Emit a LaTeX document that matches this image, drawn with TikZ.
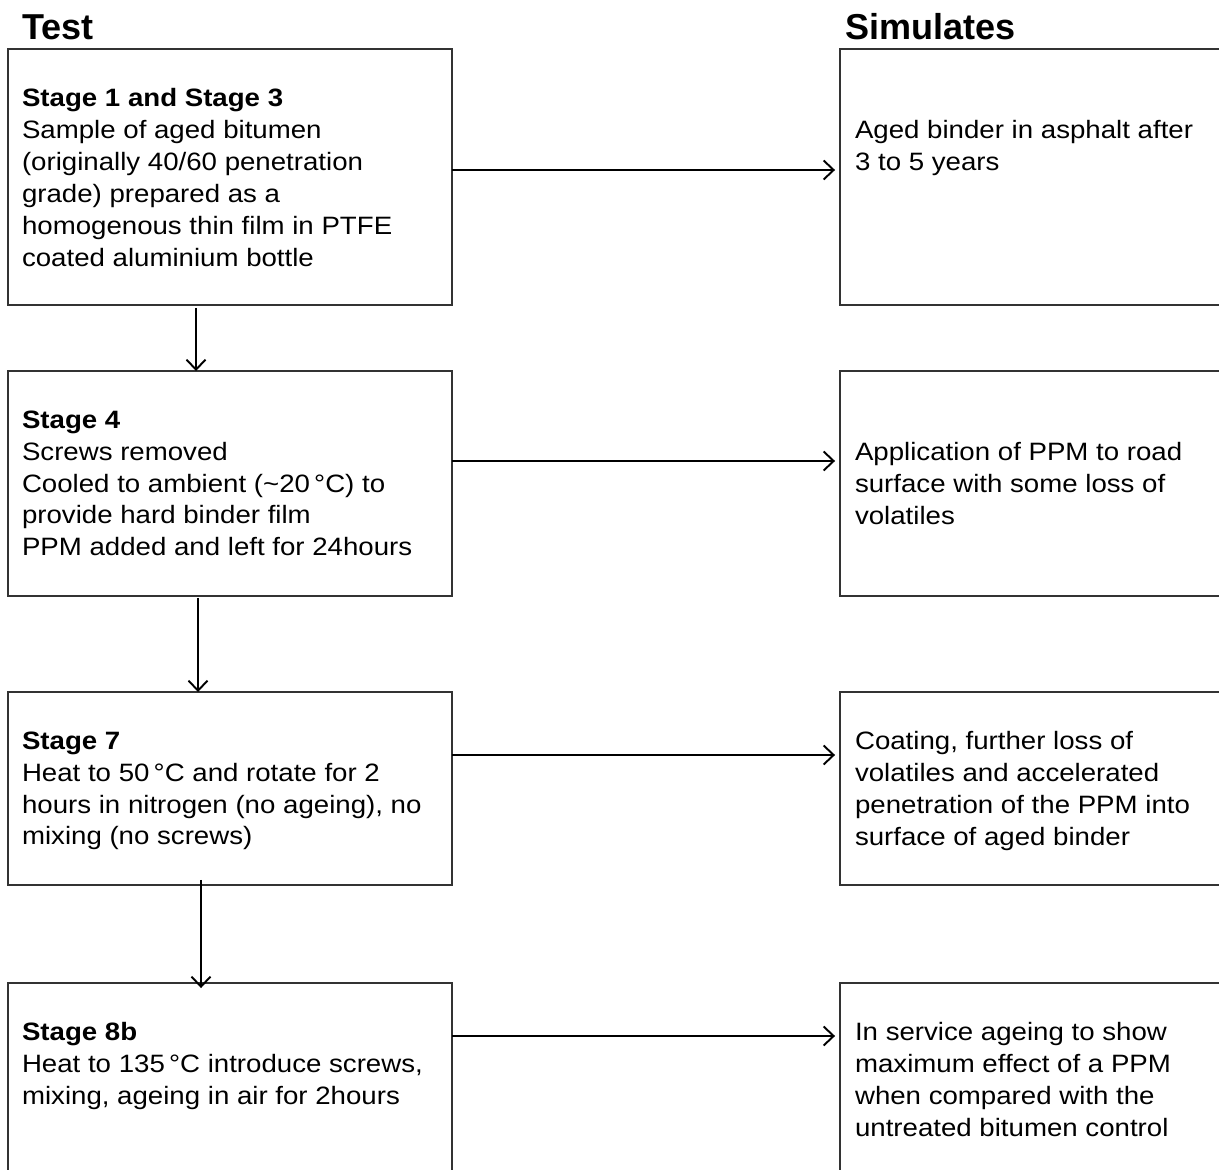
\documentclass[tikz,border=0pt]{standalone}
\usepackage{fontspec}
\setmainfont{Liberation Sans}[FakeStretch=1.1]
\newfontfamily\headfont{Liberation Sans}
\usetikzlibrary{arrows.meta, positioning}

\begin{document}
\begin{tikzpicture}[x=0.02cm, y=-0.02cm, >={Straight Barb[length=2mm, width=3.8mm]},
  every node/.style={font=\fontsize{14.3}{18.2}\selectfont, inner sep=0pt, outer sep=0pt},
  testbox/.style={draw=black!80, line width=0.7pt, minimum width=8.88cm, minimum height=#1},
  simbox/.style={draw=black!80, line width=0.7pt, minimum width=8.4cm, minimum height=#1},
  boxtext/.style={align=left},
  head/.style={anchor=base west, font=\headfont\fontsize{20.5}{24}\selectfont\bfseries},
  flow/.style={->, line width=1.1pt}]
  \useasboundingbox (0,0) rectangle (1219,1169);
  \clip (0,0) rectangle (1219,1169);

  \node[head] (testhead) at (22,40) {Test};
  \node[head] (simhead) at (845,40) {Simulates};

  % test column
  \node[testbox=5.12cm] (L1) at (230,177) {};
  \node[testbox=4.5cm] (L2) at (230,483.5) {};
  \node[testbox=3.86cm] (L3) at (230,788.5) {};
  \node[testbox=4.74cm] (L4) at (230,1101.5) {};

  % simulates column
  \node[simbox=5.12cm] (R1) at (1050,177) {};
  \node[simbox=4.5cm] (R2) at (1050,483.5) {};
  \node[simbox=3.86cm] (R3) at (1050,788.5) {};
  \node[simbox=4.74cm] (R4) at (1050,1101.5) {};

  \node[boxtext, below right=0.79cm and 0.28cm of L1.north west] (L1t) {\textbf{Stage 1 and Stage 3}\\Sample of aged bitumen\\(originally 40/60 penetration\\grade) prepared as a\\homogenous thin film in PTFE\\coated aluminium bottle};
  \node[boxtext, below right=0.79cm and 0.28cm of L2.north west] (L2t) {\textbf{Stage 4}\\Screws removed\\Cooled to ambient (\textasciitilde20\,°C) to\\provide hard binder film\\PPM added and left for 24hours};
  \node[boxtext, below right=0.79cm and 0.28cm of L3.north west] (L3t) {\textbf{Stage 7}\\Heat to 50\,°C and rotate for 2\\hours in nitrogen (no ageing), no\\mixing (no screws)};
  \node[boxtext, below right=0.79cm and 0.28cm of L4.north west] (L4t) {\textbf{Stage 8b}\\Heat to 135\,°C introduce screws,\\mixing, ageing in air for 2hours};

  \node[boxtext, below right=1.43cm and 0.3cm of R1.north west] (R1t) {Aged binder in asphalt after\\3 to 5 years};
  \node[boxtext, below right=1.43cm and 0.3cm of R2.north west] (R2t) {Application of PPM to road\\surface with some loss of\\volatiles};
  \node[boxtext, below right=0.79cm and 0.3cm of R3.north west] (R3t) {Coating, further loss of\\volatiles and accelerated\\penetration of the PPM into\\surface of aged binder};
  \node[boxtext, below right=0.79cm and 0.3cm of R4.north west] (R4t) {In service ageing to show\\maximum effect of a PPM\\when compared with the\\untreated bitumen control};

  % arrows
  \draw[flow, shorten >=0.1cm] (L1.east |- 0,170) -- (R1.west |- 0,170);
  \draw[flow, shorten >=0.1cm] (L2.east |- 0,461) -- (R2.west |- 0,461);
  \draw[flow, shorten >=0.1cm] (L3.east |- 0,755) -- (R3.west |- 0,755);
  \draw[flow, shorten >=0.1cm] (L4.east |- 0,1036) -- (R4.west |- 0,1036);

  \draw[flow, shorten <=0.06cm] (L1.south -| 196,0) -- (L2.north -| 196,0);
  \draw[flow, shorten <=0.04cm] (L2.south -| 198,0) -- (L3.north -| 198,0);
  \draw[flow, shorten <=-0.1cm, shorten >=-0.1cm] (L3.south -| 201,0) -- (L4.north -| 201,0);
\end{tikzpicture}
\end{document}
